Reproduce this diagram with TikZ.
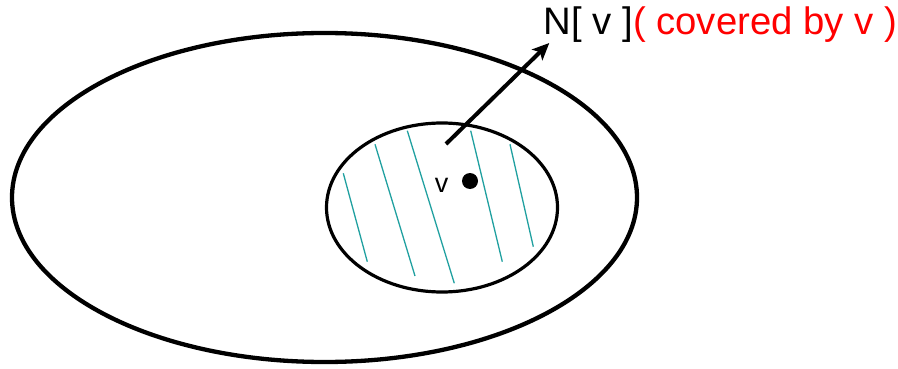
\documentclass[tikz,border=0pt]{standalone}
\usepackage{fontspec}
\setmainfont{Liberation Sans}
\usetikzlibrary{arrows.meta,shapes.geometric}
\definecolor{hatch}{RGB}{32,160,160}
\definecolor{lblred}{RGB}{255,0,0}
\tikzset{
  hatchline/.style={hatch, line width=1.3},
  ptr/.style={line width=4, -{Stealth[length=17,width=15,inset=4]}},
}
\begin{document}
\begin{tikzpicture}[x=1pt,y=-1pt]
\useasboundingbox (0,0) rectangle (898,369);
% outer set
\node[ellipse, draw, line width=4.3, minimum width=625, minimum height=329, inner sep=0] (outer) at (324.5,197.5) {};
% hatch lines
\draw[hatchline] (343.3,173.3) -- (367.3,261.7);
\draw[hatchline] (375,144.3) -- (415,276);
\draw[hatchline] (407.3,130.7) -- (454.3,283.3);
\draw[hatchline] (470.7,130.7) -- (502.3,261.7);
\draw[hatchline] (510,144.3) -- (533.3,246.7);
% inner set N[v]
\node[ellipse, draw, line width=3.2, minimum width=231, minimum height=169, inner sep=0] (inner) at (442,207.5) {};
% vertex v
\node[circle, fill=black, minimum size=16, inner sep=0] (vdot) at (470,181) {};
\node[anchor=base, inner sep=0, font=\fontsize{27}{29}\selectfont] (vlbl) at (441.5,192) {v};
% label
\node[anchor=base west, inner sep=0, font=\fontsize{38.3}{40}\selectfont] (lbl) at (543.5,34.3) {N[ v ]\textcolor{lblred}{( covered by v )}};
\coordinate (tail) at (446,144);
\coordinate (tip) at (549.3,43);
\draw[ptr] (tail) -- (tip);
\end{tikzpicture}
\end{document}
